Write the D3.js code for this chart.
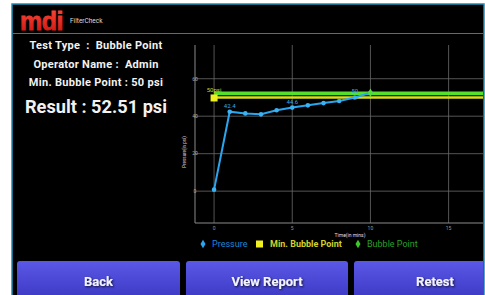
<!DOCTYPE html>
<html>
<head>
<meta charset="utf-8">
<script src="https://cdn.jsdelivr.net/npm/d3@7"></script>
<style>
  html, body { margin: 0; padding: 0; background: #fff; }
  svg { display: block; }
  text { white-space: pre; }
</style>
</head>
<body>
<div id="chart"></div>
<script>
// test readings
const times = [0, 1, 2, 3, 4, 5, 6, 7, 8, 9, 10];
const pressure = [0.8, 42.4, 41.5, 41.0, 43.2, 44.6, 45.8, 47.0, 48.1, 50.0, 52.51];
const pointLabels = {1: "42.4", 5: "44.6", 9: "50"};
const minBubblePoint = 50;
const bubblePoint = 52.51;
const xTicks = [0, 5, 10, 15];
const yTicks = [0, 20, 40, 60];

const infoLines = ["Test Type  :  Bubble Point", "Operator Name :  Admin", "Min. Bubble Point : 50 psi"];
const resultText = "Result : 52.51 psi";
const buttons = ["Back", "View Report", "Retest"];

let width = 485, height = 295;
let svg = d3.select("#chart").append("svg")
    .attr("width", width)
    .attr("height", height);

let defs = svg.append("defs");
let grad = defs.append("linearGradient").attr("id", "btn").attr("x1", 0).attr("y1", 0).attr("x2", 0).attr("y2", 1);
grad.append("stop").attr("offset", "0%").attr("stop-color", "#5a58e6");
grad.append("stop").attr("offset", "100%").attr("stop-color", "#3a37c2");
let logoGrad = defs.append("linearGradient").attr("id", "logo").attr("x1", 0).attr("y1", 0).attr("x2", 0).attr("y2", 1);
logoGrad.append("stop").attr("offset", "0%").attr("stop-color", "#ff4a3a");
logoGrad.append("stop").attr("offset", "100%").attr("stop-color", "#c8140e");
defs.append("filter").attr("id", "shadow")
    .append("feDropShadow").attr("dx", 1).attr("dy", 1).attr("stdDeviation", 0.8).attr("flood-color", "#000").attr("flood-opacity", 0.8);
defs.append("clipPath").attr("id", "screen")
    .append("rect").attr("x", 13).attr("y", 5).attr("width", 470).attr("height", 290);

// device screen
svg.append("rect").attr("x", 12).attr("y", 4).attr("width", 472).attr("height", 292)
    .attr("fill", "#000").attr("stroke", "#1d8fb8").attr("stroke-width", 1.5);

// header
svg.append("text").attr("x", 20).attr("y", 30)
    .attr("font-family", "Liberation Sans, Arial").attr("font-weight", "bold")
    .attr("font-size", 25).attr("letter-spacing", -0.5).attr("fill", "url(#logo)")
    .attr("stroke", "url(#logo)").attr("stroke-width", 0.8).text("mdi");
svg.append("text").attr("x", 70).attr("y", 23)
    .attr("font-family", "Roboto").attr("font-size", 6.5).attr("fill", "#ddd").text("FilterCheck");
svg.append("line").attr("x1", 13).attr("x2", 483).attr("y1", 33.5).attr("y2", 33.5)
    .attr("stroke", "#2a7f9c").attr("stroke-width", 1);

// left panel
let info = svg.append("g").attr("font-family", "Roboto").attr("font-weight", "bold")
    .attr("fill", "#f2f2f2").attr("text-anchor", "middle");
info.selectAll("text.info").data(infoLines).enter().append("text")
    .attr("class", "info")
    .attr("x", 96)
    .attr("y", (d, i) => 49 + i * 18.7)
    .attr("font-size", 11)
    .attr("letter-spacing", 0.3)
    .text(d => d);
info.append("text").attr("x", 96).attr("y", 113).attr("font-size", 18.2).text(resultText);

// chart
let x = d3.scaleLinear().domain([-1.22, 17.2]).range([195, 483]);
let y = d3.scaleLinear().domain([-17, 78]).range([223, 45]);

let chart = svg.append("g").attr("clip-path", "url(#screen)");

chart.selectAll(".hgrid").data(yTicks).enter().append("line")
    .attr("x1", x.range()[0]).attr("x2", x.range()[1])
    .attr("y1", d => y(d)).attr("y2", d => y(d))
    .attr("stroke", "#6a6a6a").attr("stroke-width", 0.8);
chart.selectAll(".vgrid").data(xTicks).enter().append("line")
    .attr("x1", d => x(d)).attr("x2", d => x(d))
    .attr("y1", y.range()[0]).attr("y2", y.range()[1])
    .attr("stroke", "#6a6a6a").attr("stroke-width", 0.8);

// axes
chart.append("line").attr("x1", x.range()[0]).attr("x2", x.range()[0])
    .attr("y1", y.range()[0]).attr("y2", y.range()[1]).attr("stroke", "#8a8a8a");
chart.append("line").attr("x1", x.range()[0]).attr("x2", x.range()[1])
    .attr("y1", y.range()[0]).attr("y2", y.range()[0]).attr("stroke", "#8a8a8a");

chart.selectAll(".ytick").data(yTicks).enter().append("text")
    .attr("x", x.range()[0]).attr("y", d => y(d) + 1.8)
    .attr("text-anchor", "middle").attr("font-family", "Roboto").attr("font-size", 5)
    .attr("fill", "#aaa").text(d => d);
chart.selectAll(".xtick").data(xTicks).enter().append("text")
    .attr("x", d => x(d)).attr("y", 230)
    .attr("text-anchor", "middle").attr("font-family", "Roboto").attr("font-size", 5)
    .attr("fill", "#999").text(d => d);

chart.append("text").attr("transform", "translate(186,152) rotate(-90)")
    .attr("text-anchor", "middle").attr("font-family", "Roboto").attr("font-size", 4.5)
    .attr("fill", "#ccc").text("Pressure(in psi)");
chart.append("text").attr("x", 350).attr("y", 237)
    .attr("text-anchor", "middle").attr("font-family", "Roboto").attr("font-size", 5)
    .attr("fill", "#eadcf0").text("Time(in mins)");

// min bubble point and bubble point lines
chart.append("line").attr("x1", x(0)).attr("x2", x.range()[1])
    .attr("y1", y(minBubblePoint)).attr("y2", y(minBubblePoint))
    .attr("stroke", "#d6dc1e").attr("stroke-width", 2.5);
chart.append("line").attr("x1", x(0)).attr("x2", x.range()[1])
    .attr("y1", y(bubblePoint) + 0.6).attr("y2", y(bubblePoint) + 0.6)
    .attr("stroke", "#55e02c").attr("stroke-width", 3.6);

// pressure line
let line = d3.line().x((d, i) => x(times[i])).y(d => y(d));
chart.append("path").datum(pressure)
    .attr("d", line)
    .attr("fill", "none").attr("stroke", "#2aa6ee").attr("stroke-width", 2);
chart.selectAll(".pt").data(pressure).enter().append("circle")
    .attr("cx", (d, i) => x(times[i])).attr("cy", d => y(d))
    .attr("r", 2.3).attr("fill", "#3ab2f4");
chart.selectAll(".plabel").data(Object.keys(pointLabels)).enter().append("text")
    .attr("x", d => x(times[d])).attr("y", d => y(pressure[d]) - 4)
    .attr("text-anchor", "middle").attr("font-family", "Roboto").attr("font-size", 6)
    .attr("fill", "#3aa8e8").text(d => pointLabels[d]);

// markers on the limit lines
chart.append("rect").attr("x", x(0) - 3.5).attr("y", y(minBubblePoint) - 3)
    .attr("width", 7).attr("height", 7).attr("fill", "#f0f020");
chart.append("text").attr("x", x(0)).attr("y", y(minBubblePoint) - 5)
    .attr("text-anchor", "middle").attr("font-family", "Roboto").attr("font-size", 6)
    .attr("fill", "#c8d830").text(minBubblePoint + "psi");
chart.append("path").attr("d", d3.symbol(d3.symbolDiamond, 20)())
    .attr("transform", `translate(${x(times[times.length - 1])},${y(bubblePoint)})`)
    .attr("fill", "#55e02c");

// legend
let legend = svg.append("g").attr("font-family", "Roboto").attr("font-size", 9);
legend.append("path").attr("d", d3.symbol(d3.symbolDiamond, 22)())
    .attr("transform", "translate(203,244)").attr("fill", "#2aa6ee");
legend.append("text").attr("x", 212).attr("y", 247).attr("fill", "#1f86d8").text("Pressure");
legend.append("rect").attr("x", 256).attr("y", 240.5).attr("width", 7).attr("height", 7).attr("fill", "#f0f020");
legend.append("text").attr("x", 270).attr("y", 247).attr("fill", "#d2d22a").attr("font-weight", "bold").text("Min. Bubble Point");
legend.append("path").attr("d", d3.symbol(d3.symbolDiamond, 22)())
    .attr("transform", "translate(358,244)").attr("fill", "#3cc82a");
legend.append("text").attr("x", 367).attr("y", 247).attr("fill", "#2aa02a").text("Bubble Point");

// buttons
const btnX = [17, 186, 354];
const btnW = [163, 162, 132];
let btns = svg.append("g").attr("clip-path", "url(#screen)");
btns.selectAll("rect").data(buttons).enter().append("rect")
    .attr("x", (d, i) => btnX[i]).attr("y", 261)
    .attr("width", (d, i) => btnW[i]).attr("height", 40)
    .attr("rx", 3).attr("fill", "url(#btn)");
btns.selectAll("text").data(buttons).enter().append("text")
    .attr("x", (d, i) => i === 2 ? 435 : btnX[i] + btnW[i] / 2).attr("y", 286)
    .attr("text-anchor", "middle").attr("font-family", "Roboto").attr("font-weight", "bold")
    .attr("font-size", 13).attr("fill", "#f4f4ff").attr("filter", "url(#shadow)")
    .text(d => d);
</script>
</body>
</html>
